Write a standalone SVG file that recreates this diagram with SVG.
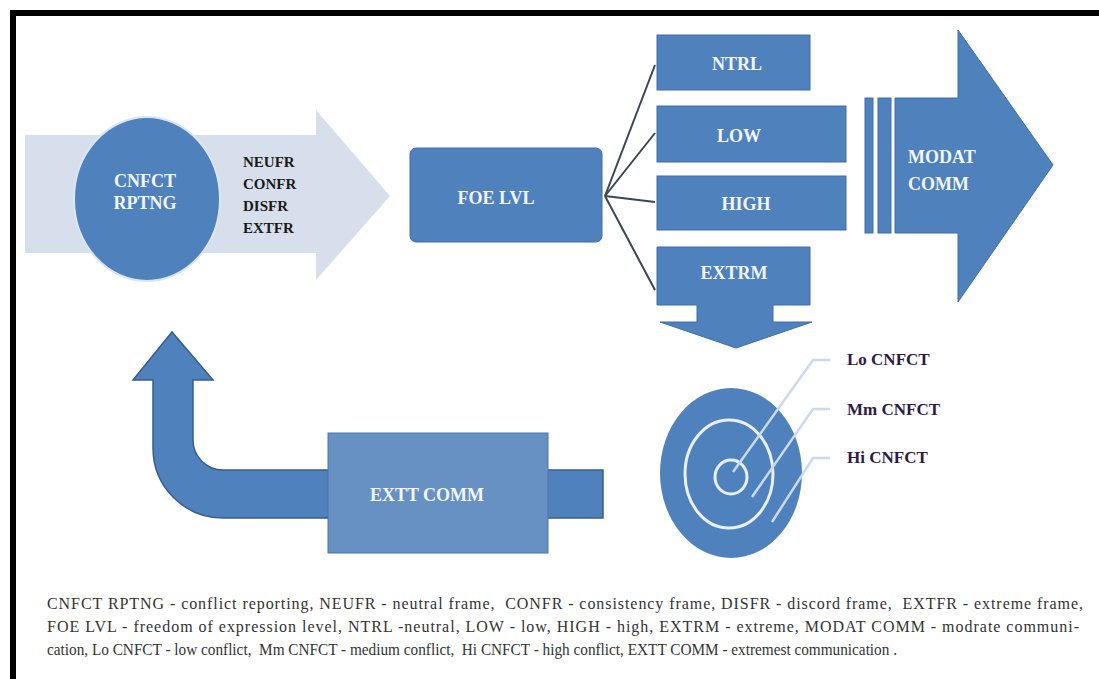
<svg xmlns="http://www.w3.org/2000/svg" width="1099" height="679" viewBox="0 0 1099 679">
<style>
.blue{fill:#4f81bd;stroke:#3f6ea8;stroke-width:1}
.lbl{font-family:"Liberation Serif","Times New Roman","DejaVu Serif","Noto Serif",serif;font-weight:bold;font-size:18px;fill:#f2f5fb}
.dark{font-family:"Liberation Serif","Times New Roman","DejaVu Serif","Noto Serif",serif;font-weight:bold;font-size:15px;fill:#1a1a1a}
.tgt{font-family:"Liberation Serif","Times New Roman","DejaVu Serif","Noto Serif",serif;font-weight:bold;font-size:17px;fill:#2e1a47}
.cap{font-family:"Liberation Serif","Times New Roman","DejaVu Serif","Noto Serif",serif;font-size:16px;fill:#333;white-space:pre}
.conn{stroke:#3a4656;stroke-width:2;fill:none}
.lead{stroke:#c9d9ef;stroke-width:2.5;fill:none}
</style>
<rect x="0" y="0" width="1099" height="679" fill="#fff"/>
<g id="frame">
<rect x="10" y="10" width="1089" height="6" fill="#000"/>
<rect x="10" y="10" width="6" height="669" fill="#000"/>
</g>
<g id="input-arrow">
<path d="M25,135 H316 V110 L390,196 L316,280 V253 H25 Z" fill="#d6dfeb"/>
</g>
<g id="cnfct-rptng">
<ellipse cx="147" cy="199" rx="73" ry="82" fill="#4f81bd" stroke="#dbe6f3" stroke-width="2"/>
<text class="lbl" x="145" y="187" text-anchor="middle">CNFCT</text>
<text class="lbl" x="145" y="209" text-anchor="middle">RPTNG</text>
</g>
<g id="frames">
<text class="dark" x="243" y="167">NEUFR</text>
<text class="dark" x="243" y="189">CONFR</text>
<text class="dark" x="243" y="211">DISFR</text>
<text class="dark" x="243" y="233">EXTFR</text>
</g>
<g id="foe-lvl">
<rect x="410" y="148" width="192" height="94" rx="6" fill="#4f81bd" stroke="#3f6ea8"/>
<text class="lbl" x="496" y="204" text-anchor="middle">FOE LVL</text>
</g>
<g id="connectors">
<line class="conn" x1="605" y1="196" x2="655" y2="65"/>
<line class="conn" x1="605" y1="196" x2="655" y2="133"/>
<line class="conn" x1="605" y1="196" x2="655" y2="202"/>
<line class="conn" x1="605" y1="196" x2="655" y2="290"/>
</g>
<g id="ntrl">
<rect class="blue" x="657" y="35" width="153" height="55"/>
<text class="lbl" x="737" y="70" text-anchor="middle">NTRL</text>
</g>
<g id="low">
<rect class="blue" x="657" y="106" width="189" height="56"/>
<text class="lbl" x="739" y="142" text-anchor="middle">LOW</text>
</g>
<g id="high">
<rect class="blue" x="657" y="176" width="189" height="54"/>
<text class="lbl" x="746" y="210" text-anchor="middle">HIGH</text>
</g>
<g id="extrm">
<path class="blue" d="M657,247 H810 V305 H773 V322 H812 L736,348 L660,322 H697 V305 H657 Z"/>
<text class="lbl" x="734" y="279" text-anchor="middle">EXTRM</text>
</g>
<g id="modat-comm">
<rect class="blue" x="865" y="98" width="8" height="135"/>
<rect class="blue" x="878" y="98" width="13" height="135"/>
<path class="blue" d="M895,98 H958 V30 L1053,165 L958,302 V233 H895 Z" stroke="#385d8a"/>
<text class="lbl" x="908" y="163">MODAT</text>
<text class="lbl" x="908" y="190">COMM</text>
</g>
<g id="return-arrow">
<path d="M603,470 V518 H223 A70,70 0 0 1 153,448 V380 H133 L172,332 L213,380 H193 V440 A30,30 0 0 0 223,470 Z" fill="#4f81bd" stroke="#385d8a" stroke-width="1.5"/>
</g>
<g id="extt-comm">
<rect x="328" y="433" width="220" height="120" fill="#6790c3" stroke="#4d76ab"/>
<text class="lbl" x="427" y="501" text-anchor="middle">EXTT COMM</text>
</g>
<g id="conflict-target">
<ellipse cx="731" cy="473" rx="71" ry="85" fill="#4f81bd"/>
<ellipse cx="729" cy="474" rx="44" ry="54" fill="none" stroke="#e8eff8" stroke-width="3"/>
<ellipse cx="731" cy="477" rx="16" ry="17" fill="none" stroke="#e8eff8" stroke-width="3"/>
<path class="lead" d="M733,472 L813,360 H830"/>
<path class="lead" d="M752,497 L813,409 H830"/>
<path class="lead" d="M772,522 L813,458 H830"/>
<text class="tgt" x="847" y="365">Lo CNFCT</text>
<text class="tgt" x="847" y="415">Mm CNFCT</text>
<text class="tgt" x="847" y="463">Hi CNFCT</text>
</g>
<g id="caption">
<text class="cap" x="47" y="609" textLength="1036" lengthAdjust="spacing">CNFCT RPTNG - conflict reporting, NEUFR - neutral frame,  CONFR - consistency frame, DISFR - discord frame,  EXTFR - extreme frame,</text>
<text class="cap" x="47" y="632" textLength="1032" lengthAdjust="spacing">FOE LVL - freedom of expression level, NTRL -neutral, LOW - low, HIGH - high, EXTRM - extreme, MODAT COMM - modrate communi-</text>
<text class="cap" x="47" y="655" textLength="850" lengthAdjust="spacingAndGlyphs">cation, Lo CNFCT - low conflict,  Mm CNFCT - medium conflict,  Hi CNFCT - high conflict, EXTT COMM - extremest communication .</text>
</g>
</svg>
